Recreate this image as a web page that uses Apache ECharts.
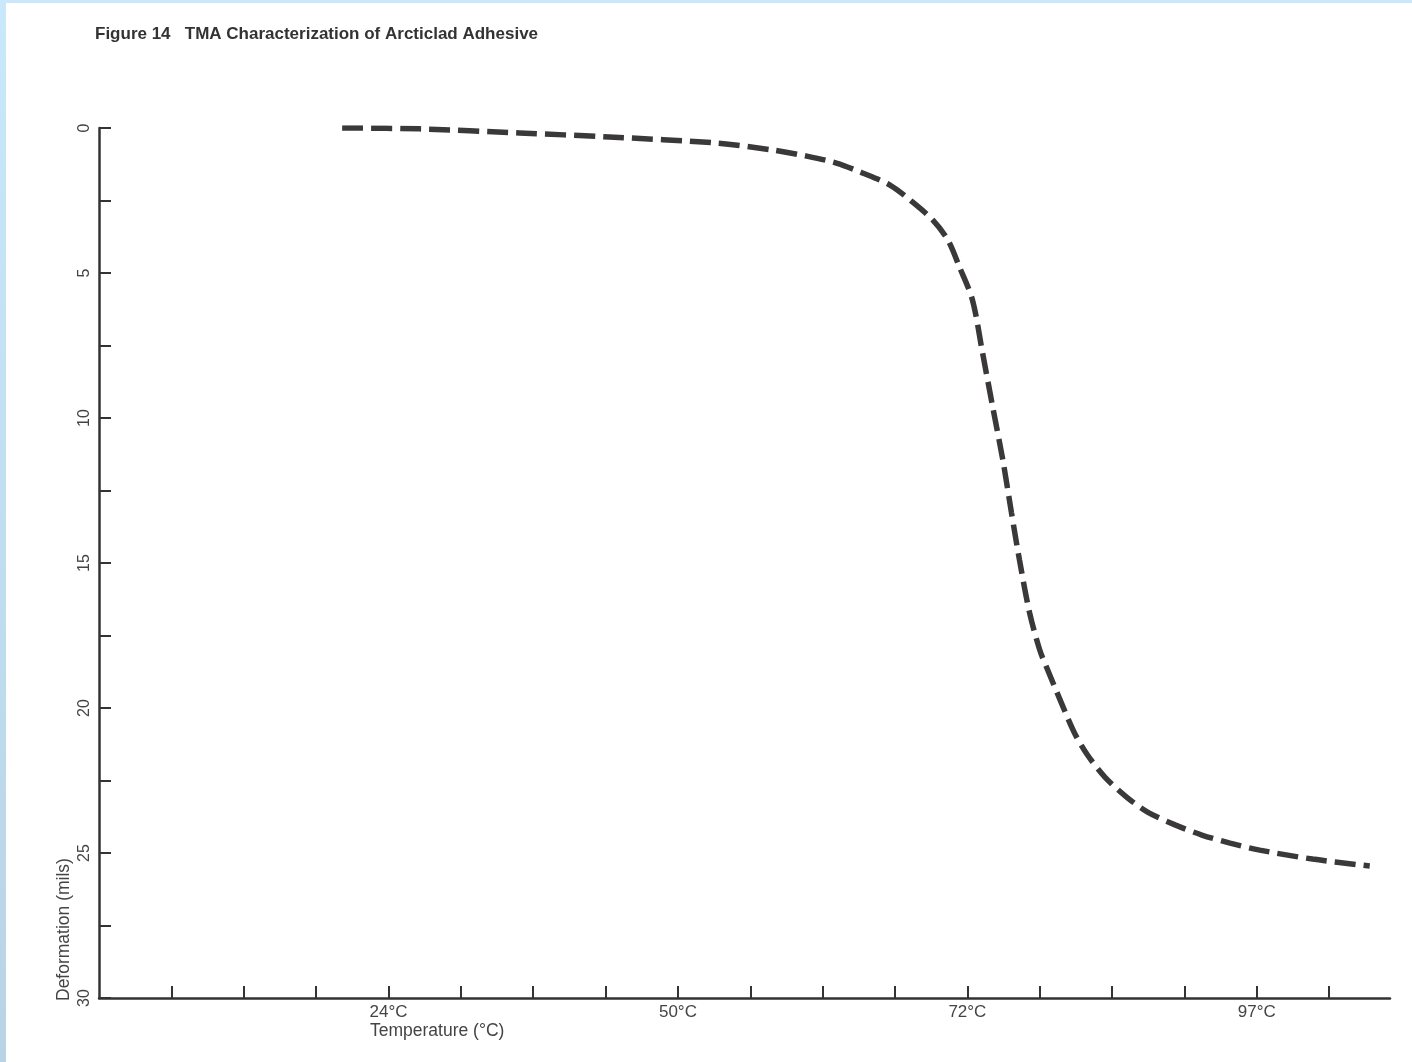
<!DOCTYPE html>
<html>
<head>
<meta charset="utf-8">
<script src="https://cdn.jsdelivr.net/npm/echarts@6/dist/echarts.min.js"></script>
<style>
  html, body { margin: 0; padding: 0; background: #ffffff; }
  #chart { position: absolute; left: 0; top: 0; width: 1412px; height: 1062px; background: #ffffff; }
  #edgeL { position: absolute; left: 0; top: 0; width: 6px; height: 1062px; background: linear-gradient(#c9e8fc, #b9d3e6); }
  #edgeT { position: absolute; left: 0; top: 0; width: 1412px; height: 3px; background: #c9e8fc; }
</style>
</head>
<body>
<div id="chart"></div>
<div id="edgeL"></div>
<div id="edgeT"></div>
<script>
// Data: x is position along the temperature axis in tick units
// (one tick per unit; labelled ticks listed below), y is deformation in mils.
const curveX = [3.36, 4.43, 5.81, 7.05, 8.54, 9.31, 9.78, 10.19, 10.55, 10.93, 11.24, 11.52, 11.73, 11.89,
                12.07, 12.21, 12.35, 12.49, 12.61, 12.72, 12.86, 13.0, 13.11, 13.3, 13.48, 13.66, 13.9,
                14.2, 14.49, 14.87, 15.24, 15.63, 16.04, 16.77, 17.56];
const curveY = [0.0, 0.03, 0.17, 0.31, 0.52, 0.76, 0.97, 1.21, 1.55, 1.97, 2.55, 3.17, 3.86, 4.79,
                5.93, 7.76, 9.62, 11.45, 13.28, 14.9, 16.72, 18.0, 18.69, 19.83, 20.86, 21.62, 22.38,
                23.07, 23.59, 24.03, 24.38, 24.66, 24.9, 25.21, 25.45];
const xLabelPositions = [4, 8, 12, 16];
const xLabelTexts = ['24°C', '50°C', '72°C', '97°C'];
const yLabelValues = [0, 5, 10, 15, 20, 25, 30];
const titleText = 'Figure 14   TMA Characterization of Arcticlad Adhesive';
const xAxisTitle = 'Temperature (°C)';
const yAxisTitle = 'Deformation (mils)';

const points = curveX.map((x, i) => [x, curveY[i]]);
const ink = '#333333';
const font = '"Liberation Sans", Arial, Helvetica, sans-serif';

const chart = echarts.init(document.getElementById('chart'), null, { renderer: 'canvas' });
chart.setOption({
  backgroundColor: '#ffffff',
  animation: false,
  title: {
    text: titleText,
    left: 95,
    top: 26,
    padding: 0,
    textStyle: { fontSize: 17, fontWeight: 'bold', color: ink, fontFamily: font }
  },
  grid: { left: 99, right: 22, top: 128, bottom: 64, containLabel: false },
  xAxis: {
    type: 'value',
    position: 'bottom',
    min: 0,
    max: 17.84,
    interval: 1,
    axisLine: { show: true, onZero: false, lineStyle: { color: ink, width: 2.5 } },
    axisTick: { show: true, inside: true, length: 12, lineStyle: { color: ink, width: 2 } },
    splitLine: { show: false },
    axisLabel: {
      margin: 6,
      fontSize: 17,
      color: '#444444',
      fontFamily: font,
      showMinLabel: false,
      showMaxLabel: false,
      formatter: function (v) {
        const idx = xLabelPositions.indexOf(Math.round(v * 100) / 100);
        return idx >= 0 ? xLabelTexts[idx] : '';
      }
    }
  },
  yAxis: {
    type: 'value',
    inverse: true,
    min: 0,
    max: 30,
    interval: 2.5,
    axisLine: { show: true, onZero: false, lineStyle: { color: ink, width: 2.5 } },
    axisTick: { show: true, inside: true, length: 12, lineStyle: { color: ink, width: 2 } },
    splitLine: { show: false },
    axisLabel: {
      rotate: 90,
      margin: 6,
      fontSize: 16,
      color: '#444444',
      fontFamily: font,
      formatter: function (v) {
        return yLabelValues.indexOf(v) >= 0 ? String(v) : '';
      }
    }
  },
  graphic: [
    {
      type: 'text',
      left: 370,
      top: 1022,
      style: { text: xAxisTitle, fontSize: 17.5, fill: '#444444', fontFamily: font }
    },
    {
      type: 'text',
      x: 64,
      y: 1001,
      rotation: Math.PI / 2,
      style: { text: yAxisTitle, fontSize: 17.5, fill: '#444444', fontFamily: font,
               textAlign: 'left', textVerticalAlign: 'middle' }
    }
  ],
  series: [{
    type: 'line',
    data: points,
    smooth: 0.3,
    showSymbol: false,
    symbol: 'none',
    lineStyle: { color: '#3a3838', width: 5.5, type: [21, 8], cap: 'butt' }
  }]
});
</script>
</body>
</html>
